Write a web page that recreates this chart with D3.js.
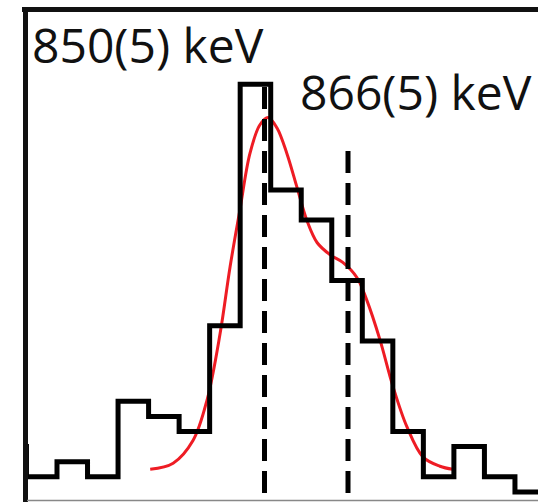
<!DOCTYPE html>
<html>
<head>
<meta charset="utf-8">
<script src="https://cdn.jsdelivr.net/npm/d3@7"></script>
<style>
  html, body { margin: 0; padding: 0; background: #fff; }
  svg { display: block; }
</style>
</head>
<body>
<script>
// Histogram of counts per energy bin (keV), first bin starts at binStart
const binStart = 798.54;
const binWidth = 5.85;
const counts = [4, 2, 3, 2, 7, 6, 5, 12, 28, 21, 19, 15, 11, 5, 2, 4, 2, 1];

// Fitted line shape, sampled: energy (keV) and counts
const fitEnergy = [828.1, 832.5, 836.3, 839.0, 841.5, 843.4, 845.3, 847.2, 849.1, 850.7,
                   852.4, 854.3, 856.2, 858.1, 860.1, 862.6, 865.0, 867.7, 869.6, 872.1,
                   874.6, 877.3, 880.4, 883.6, 886.1];
const fitCounts = [2.5, 2.9, 4.4, 7.1, 11.5, 15.9, 19.7, 23.4, 25.3, 25.8,
                   25.1, 23.4, 21.2, 19.0, 17.5, 16.7, 16.2, 15.2, 13.7, 11.1,
                   8.0, 5.3, 3.3, 2.7, 2.5];

// Peak centroids (keV) with labels
const peakEnergy = [850, 866];
const peakLabels = ["850(5) keV", "866(5) keV"];
const peakLineTop = [27.9, 24];

const W = 538, H = 502;
const svg = d3.select("body").append("svg").attr("width", W).attr("height", H);

const x = d3.scaleLinear().domain([800, 900]).range([3.55, 525.45]);
const y = d3.scaleLinear().domain([0, 30]).range([507, 54]);

const plotLeft = 27, plotTop = 9, plotBottom = 500;

svg.append("defs").append("clipPath").attr("id", "plot")
  .append("rect").attr("x", plotLeft).attr("y", plotTop)
  .attr("width", W - plotLeft).attr("height", plotBottom - plotTop);

const g = svg.append("g").attr("clip-path", "url(#plot)");

// fitted curve
const fit = fitEnergy.map((e, i) => [e, fitCounts[i]]);
g.append("path")
  .datum(fit)
  .attr("fill", "none")
  .attr("stroke", "#ee1c24")
  .attr("stroke-width", 3)
  .attr("d", d3.line().x(d => x(d[0])).y(d => y(d[1])).curve(d3.curveCatmullRom.alpha(0.5)));

// peak centroid markers
peakEnergy.forEach((e, i) => {
  g.append("line")
    .attr("x1", x(e)).attr("x2", x(e))
    .attr("y1", 493).attr("y2", y(peakLineTop[i]))
    .attr("stroke", "#000")
    .attr("stroke-width", 5)
    .attr("stroke-dasharray", "22,10");
});

// step histogram
const steps = [];
counts.forEach((c, i) => {
  const e0 = binStart + i * binWidth;
  steps.push([e0, c], [e0 + binWidth, c]);
});
g.append("path")
  .datum(steps)
  .attr("fill", "none")
  .attr("stroke", "#000")
  .attr("stroke-width", 5)
  .attr("stroke-linejoin", "miter")
  .attr("d", d3.line().x(d => x(d[0])).y(d => y(d[1])));

// frame
svg.append("line").attr("x1", 22).attr("x2", W).attr("y1", 9.5).attr("y2", 9.5)
  .attr("stroke", "#111").attr("stroke-width", 5);
svg.append("line").attr("x1", 25.5).attr("x2", 25.5).attr("y1", 7).attr("y2", H)
  .attr("stroke", "#111").attr("stroke-width", 5);
svg.append("line").attr("x1", 27).attr("x2", W).attr("y1", 500.5).attr("y2", 500.5)
  .attr("stroke", "#888").attr("stroke-width", 1.5);

// labels
const labelPos = [[32, 63], [300, 110]];
peakLabels.forEach((t, i) => {
  svg.append("text")
    .attr("x", labelPos[i][0]).attr("y", labelPos[i][1])
    .attr("font-family", "'Open Sans', sans-serif")
    .attr("font-size", 48)
    .attr("fill", "#111")
    .text(t);
});
</script>
</body>
</html>
